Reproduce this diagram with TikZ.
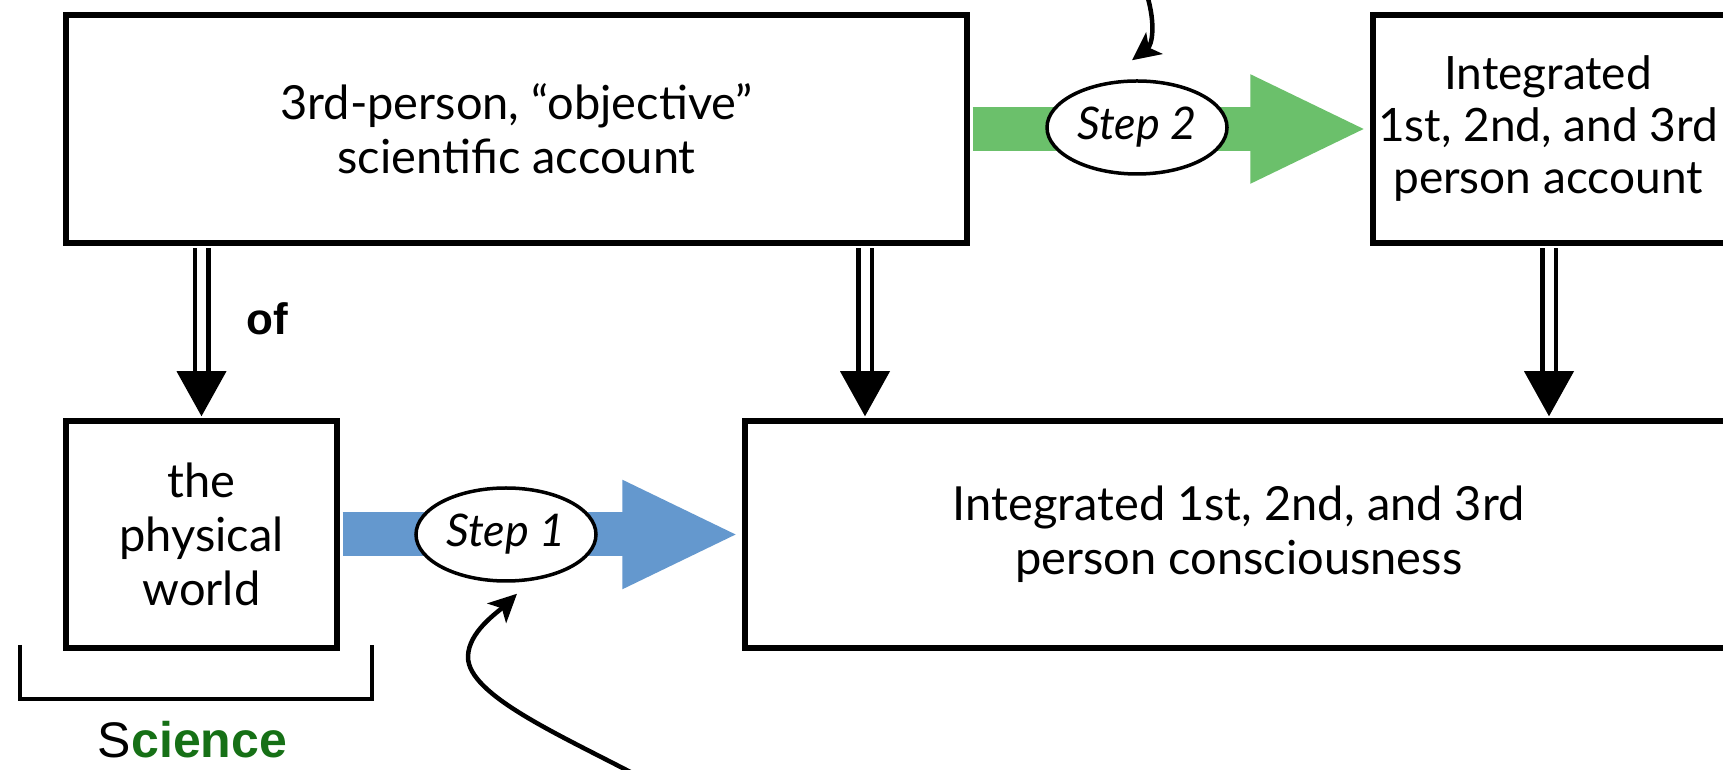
\documentclass[tikz,border=0pt]{standalone}
\usepackage{fontspec}
\setmainfont{Lato}
\newfontfamily\arialfont{Liberation Sans}
\usetikzlibrary{calc,arrows.meta,shapes.geometric}
\definecolor{stepblue}{RGB}{100,152,206}
\definecolor{stepgreen}{RGB}{107,192,107}
\definecolor{scigreen}{RGB}{22,112,22}
\begin{document}
\begin{tikzpicture}[x=1pt,y=1pt,
  box/.style={draw, line width=5.5pt, fill=white, inner sep=0pt, align=center,
    font=\fontsize{47}{54}\selectfont},
  boxtext/.style={align=center, inner sep=0pt, font=\fontsize{46}{52}\selectfont},
  stepnode/.style={ellipse, draw, line width=3.5pt, fill=white, inner sep=0pt,
    minimum width=180pt, minimum height=93pt, font=\itshape\fontsize{45}{50}\selectfont},
  bigarrow/.style={line width=44pt, -{Triangle[length=117pt,width=100pt]},
    shorten <=2.75pt, shorten >=2.75pt},
  dblshaft/.style={draw, line width=4.5pt, double=white, double distance=9pt},
  dblhead/.style={fill=black},
  curved/.style={line width=4.5pt, -{Stealth[length=28pt,width=27pt,inset=7pt]}},
  bracketline/.style={line width=3.5pt},
]
\useasboundingbox (0,0) rectangle (1723,770);
\clip (0,0) rectangle (1723,770);
\fill[white] (0,0) rectangle (1723,770);

% boxes
\node[box, minimum width=901pt, minimum height=228pt] (top) at (516.5,641)
  {3rd-person, “objective”\\scientific account};
\node[box, minimum width=271pt, minimum height=227pt] (phys) at (201.5,235.5)
  {the\\physical\\world};
\node[box, minimum width=988pt, minimum height=227pt, anchor=west] (cons) at (742,235.5)
  {Integrated 1st, 2nd, and 3rd\\person consciousness};
\node[box, minimum width=420pt, minimum height=228pt, anchor=west] (acct) at (1370,641) {};
\node[boxtext] (accttext) at (1548,641) {Integrated\\1st, 2nd, and 3rd\\person account};

% big coloured arrows
\draw[bigarrow, stepblue] (phys.east) -- (cons.west);
\draw[bigarrow, stepgreen] (top.east) -- (acct.west);

% step ellipses
\node[stepnode] (s1) at (506,235.5) {Step 1};
\node[stepnode] (s2) at (1137,642.5) {Step 2};

% double arrows
\coordinate (mx) at (865,0);
\coordinate (rx) at (1549,0);
\draw[dblshaft] ($(top.south -| phys.north)+(0,-2.75)$) -- ($(phys.north)+(0,44)$);
\fill[dblhead] ($(phys.north)+(-25,47)$) -- ($(phys.north)+(25,47)$) -- ($(phys.north)+(0,2)$) -- cycle;
\draw[dblshaft] ($(top.south -| mx)+(0,-2.75)$) -- ($(cons.north -| mx)+(0,44)$);
\fill[dblhead] ($(cons.north -| mx)+(-25,47)$) -- ($(cons.north -| mx)+(25,47)$) -- ($(cons.north -| mx)+(0,2)$) -- cycle;
\draw[dblshaft] ($(acct.south -| rx)+(0,-2.75)$) -- ($(cons.north -| rx)+(0,44)$);
\fill[dblhead] ($(cons.north -| rx)+(-25,47)$) -- ($(cons.north -| rx)+(25,47)$) -- ($(cons.north -| rx)+(0,2)$) -- cycle;

\node[font=\arialfont\bfseries\fontsize{44}{50}\selectfont, anchor=base, inner sep=0pt] (of) at (267,435) {of};

% curved pointer arrows
\coordinate (c2) at (1147,775);
\draw[curved] (c2) .. controls (1156,745) and (1152,725) .. ($(s2.north)+(-5,19)$);
\coordinate (c1) at (636,-5);
\coordinate (c1m) at (468,113);
\draw[curved] (c1) .. controls (560,35) and (468,75) .. (c1m)
  .. controls (468,138) and (498,158) .. ($(s1.south)+(11,-11)$);

% bracket and label
\coordinate (bkl) at (20,125);
\coordinate (bkr) at (372,125);
\draw[bracketline] (bkl) |- ($(bkr)+(0,-54)$) -- (bkr);
\node[font=\arialfont\fontsize{50}{56}\selectfont, anchor=base, inner sep=0pt] (sci) at (192.5,12)
  {S{\color{scigreen}\bfseries cience}};
\end{tikzpicture}
\end{document}
